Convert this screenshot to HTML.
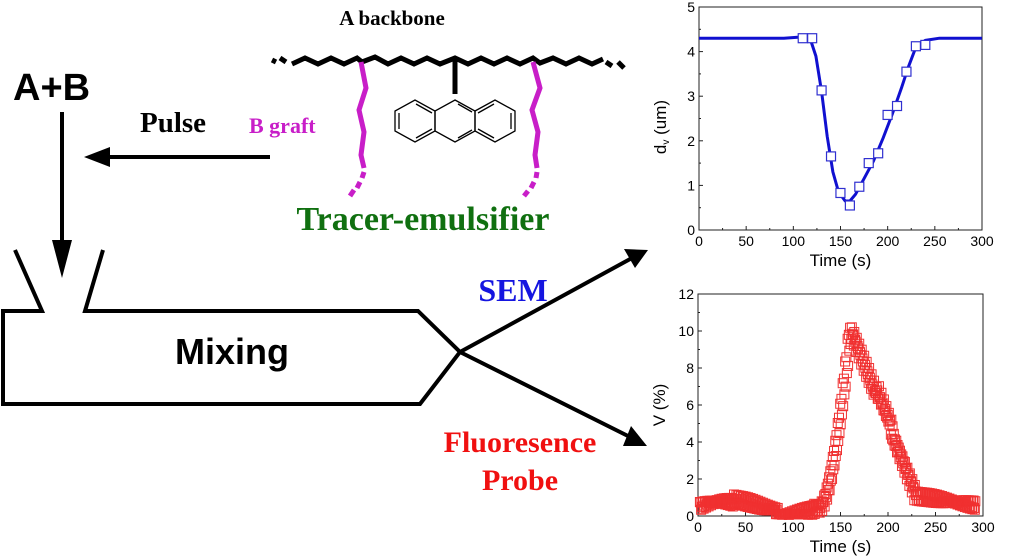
<!DOCTYPE html>
<html><head><meta charset="utf-8"><style>
html,body{margin:0;padding:0;background:#fff;}
svg{display:block;}
.ser{font-family:"Liberation Serif",serif;font-weight:bold;}
.san{font-family:"Liberation Sans",sans-serif;}
</style></head><body>
<svg id="s" width="1018" height="559" viewBox="0 0 1018 559" xmlns="http://www.w3.org/2000/svg">
<text x="13" y="100" class="san" font-weight="bold" font-size="38">A+B</text>
<line x1="62" y1="112" x2="62" y2="245" stroke="#000" stroke-width="4"/>
<polygon points="52,240 72,240 62,278" fill="#000"/>
<text x="140" y="132" class="ser" font-size="29">Pulse</text>
<text x="249" y="133" class="ser" font-size="22" fill="#c81ec8">B graft</text>
<line x1="270" y1="157" x2="105" y2="157" stroke="#000" stroke-width="4"/>
<polygon points="84,157 110,147 110,167" fill="#000"/>
<polyline points="15,250 42,311 3,311 3,404 420,404 460,352 418,311 85,311 103,250" fill="none" stroke="#000" stroke-width="4" stroke-linejoin="miter"/>
<text x="232" y="364" class="san" font-weight="bold" font-size="36" text-anchor="middle">Mixing</text>
<line x1="460" y1="352" x2="632" y2="258" stroke="#000" stroke-width="4"/>
<polygon points="648,250 624,249 635,268" fill="#000"/>
<line x1="460" y1="352" x2="630" y2="437" stroke="#000" stroke-width="4"/>
<polygon points="647,446 631,426 623,446" fill="#000"/>
<text x="513" y="301" class="ser" font-size="32" fill="#1515e0" text-anchor="middle">SEM</text>
<text x="520" y="452" class="ser" font-size="30" fill="#f01010" text-anchor="middle">Fluoresence</text>
<text x="520" y="490" class="ser" font-size="30" fill="#f01010" text-anchor="middle">Probe</text>
<text x="392" y="25" class="ser" font-size="21" text-anchor="middle">A backbone</text>
<text x="423" y="230" class="ser" font-size="34" fill="#107010" text-anchor="middle">Tracer-emulsifier</text>
<g stroke="#000" stroke-width="5" fill="none">
<line x1="272" y1="60" x2="276" y2="62"/><line x1="280" y1="58" x2="286" y2="62"/>
<polyline points="292,64 305,58 318,64 331,58 344,64 357,58 362,62 375,57 388,64 401,58 414,64 427,58 440,64 455,58 468,64 481,58 494,64 507,58 520,64 533,58 540,63 553,58 566,64 579,58 592,64 603,59"/>
<line x1="606" y1="62" x2="612" y2="66"/><line x1="618" y1="62" x2="624" y2="68"/>
<line x1="455" y1="60" x2="455" y2="94"/>
</g>
<g stroke="#c81ec8" stroke-width="5" fill="none">
<polyline points="361,62 366,88 359,110 364,132 361,155 364,168"/>
<line x1="364" y1="172" x2="362" y2="178"/><line x1="360" y1="182" x2="357" y2="188"/><line x1="354" y1="190" x2="350" y2="196"/>
<polyline points="533,62 540,88 532,110 538,132 535,155 537,168"/>
<line x1="537" y1="172" x2="536" y2="178"/><line x1="534" y1="182" x2="531" y2="188"/><line x1="528" y1="191" x2="524" y2="196"/>
</g>
<g stroke="#000" stroke-width="1.3" fill="none">
<polygon points="455,100 475,111 475,131 455,142 435,131 435,111"/>
<polygon points="435,111 435,131 415,142 395,131 395,111 415,100"/>
<polygon points="475,111 495,100 515,111 515,131 495,142 475,131"/>
<line x1="458" y1="104" x2="472" y2="112"/><line x1="458" y1="138" x2="472" y2="130"/>
<line x1="399" y1="113" x2="399" y2="129"/><line x1="416" y1="104" x2="432" y2="113"/><line x1="416" y1="138" x2="432" y2="129"/>
<line x1="511" y1="113" x2="511" y2="129"/><line x1="494" y1="104" x2="478" y2="113"/><line x1="494" y1="138" x2="478" y2="129"/>
</g>
<g id="p1"></g><g id="p2"></g>
</svg>
<script>
var NS="http://www.w3.org/2000/svg";
function el(p,t,a,txt){var e=document.createElementNS(NS,t);for(var k in a)e.setAttribute(k,a[k]);if(txt!=null)e.textContent=txt;p.appendChild(e);return e;}
function axes(g,x0,x1,y0,y1,yt,ymax){
 el(g,"rect",{x:x0,y:y1,width:x1-x0,height:y0-y1,fill:"none",stroke:"#222","stroke-width":1});
 for(var i=0;i<=6;i++){var x=x0+(x1-x0)*i/6;el(g,"line",{x1:x,y1:y0,x2:x,y2:y0-4,stroke:"#222"});
  if(i<6){var xm=x+(x1-x0)/12;el(g,"line",{x1:xm,y1:y0,x2:xm,y2:y0-2,stroke:"#222"});}
  el(g,"text",{x:x,y:y0+16,"font-size":14,"text-anchor":"middle","font-family":"Liberation Sans,sans-serif"},String(i*50));}
 for(var i=0;i<=yt;i++){var y=y0-(y0-y1)*i/yt;el(g,"line",{x1:x0,y1:y,x2:x0+4,y2:y,stroke:"#222"});
  if(i<yt){var ym=y-(y0-y1)/yt/2;el(g,"line",{x1:x0,y1:ym,x2:x0+2,y2:ym,stroke:"#222"});}
  el(g,"text",{x:x0-4,y:y+5,"font-size":14,"text-anchor":"end","font-family":"Liberation Sans,sans-serif"},String(i*ymax/yt));}
 el(g,"text",{x:(x0+x1)/2,y:y0+36,"font-size":17,"text-anchor":"middle","font-family":"Liberation Sans,sans-serif"},"Time (s)");
}
var g1=document.getElementById("p1");
axes(g1,699,982,230,7,5,5);
var t1=el(g1,"text",{x:0,y:0,"font-size":17,"font-family":"Liberation Sans,sans-serif",transform:"translate(666,127) rotate(-90)","text-anchor":"middle"},"");
t1.innerHTML='d<tspan font-size="10" dy="3">v</tspan><tspan dy="-3"> (um)</tspan>';
function X1(t){return 699+t*0.943}function Y1(v){return 230-v*44.6}
var cur=[[0,4.3],[90,4.3],[110,4.33],[118,4.28],[124,3.9],[130,3.1],[136,2.1],[142,1.3],[148,0.85],[155,0.65],[160,0.65],[166,0.8],[175,1.15],[185,1.55],[195,2.05],[205,2.6],[215,3.2],[222,3.65],[230,4.1],[240,4.25],[255,4.3],[300,4.3]];
var d="M";cur.forEach(function(p,i){d+=(i?" L":"")+X1(p[0]).toFixed(1)+","+Y1(p[1]).toFixed(1);});
el(g1,"path",{d:d,fill:"none",stroke:"#1010d0","stroke-width":3,"stroke-linejoin":"round"});
[[110,4.3],[120,4.3],[130,3.13],[140,1.65],[150,0.83],[160,0.55],[170,0.97],[180,1.5],[190,1.72],[200,2.58],[210,2.78],[220,3.55],[230,4.12],[240,4.15]].forEach(function(p){
 el(g1,"rect",{x:X1(p[0])-4.5,y:Y1(p[1])-4.5,width:9,height:9,fill:"#fff",stroke:"#3030d0","stroke-width":1.2});});
var g2=document.getElementById("p2");
axes(g2,698,983,516,294,6,12);
el(g2,"text",{x:0,y:0,"font-size":17,"font-family":"Liberation Sans,sans-serif",transform:"translate(665,405) rotate(-90)","text-anchor":"middle"},"V (%)");
function X2(t){return 698+t*0.95}function Y2(v){return 516-v*18.5}
function f(t){
 if(t<125){return 0.5+0.3*Math.sin(t/18)-(t>85?0.3:0)+(t>40&&t<85?0.2:0);}
 if(t<162){var u=(t-128)/34;return 0.4+9.7*u*u*(1.3-0.3*u);}
 if(t<230){return 10.1-(t-162)*0.13+ (t>190&&t<205?0.4:0);}
 return 1.1-(t-230)*0.008;
}
for(var s=0;s<2;s++){
for(var t=2+s*0.8;t<=292;t+=1.3){var v=f(t+(s?3:0))+(Math.sin(t*7.3+s)*0.25);if(v<0.05)v=0.1;
 el(g2,"rect",{x:X2(t)-4.5,y:Y2(v)-4.5,width:9,height:9,fill:"none",stroke:"#f03030","stroke-width":1});}
}
</script>
</body></html>
